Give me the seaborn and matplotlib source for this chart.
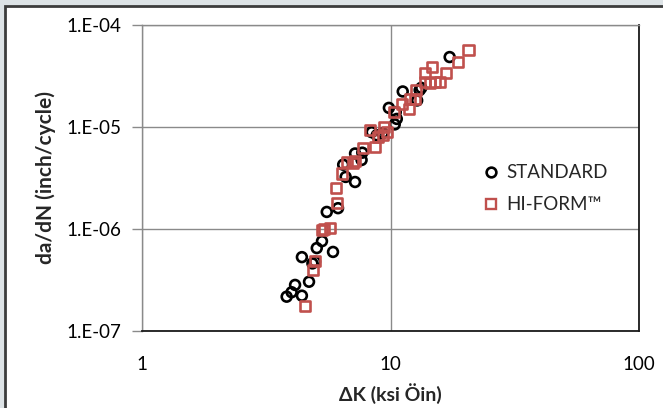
import matplotlib
matplotlib.use("Agg")
import matplotlib.pyplot as plt
import seaborn as sns
import pandas as pd
from matplotlib.patches import Rectangle
from matplotlib.lines import Line2D
from matplotlib.ticker import FixedLocator, FixedFormatter

# ---- data ----
std_dk = [3.82, 4.13, 4.0, 4.40, 4.70, 4.40, 4.97, 4.85, 5.87, 5.05, 5.3, 5.54, 6.15,
          7.2, 6.6, 6.45, 7.2, 7.65, 7.7, 8.4, 8.8, 9.3, 9.85, 10.4, 10.6, 10.5,
          11.2, 12.8, 13.1, 13.3, 17.3]
std_dadn = [2.17e-7, 2.83e-7, 2.4e-7, 2.22e-7, 3.04e-7, 5.3e-7, 4.78e-7, 4.6e-7, 5.96e-7,
            6.5e-7, 7.6e-7, 1.47e-6, 1.6e-6, 2.89e-6, 3.24e-6, 4.27e-6, 5.5e-6, 4.75e-6,
            5.6e-6, 8.9e-6, 8.3e-6, 8.7e-6, 1.54e-5, 1.06e-5, 1.2e-5, 1.4e-5, 2.23e-5,
            1.82e-5, 2.3e-5, 2.42e-5, 4.85e-5]

hf_dk = [4.53, 4.87, 4.97, 5.3, 5.4, 5.7, 6.07, 6.03, 6.36, 6.67, 7.08, 7.2, 7.77, 8.3,
         8.7, 8.9, 9.3, 9.4, 9.7, 10.3, 11.1, 11.9, 12.0, 12.5, 12.7, 13.8, 13.8, 14.4,
         14.7, 15.1, 15.8, 16.8, 18.7, 20.6]
hf_dadn = [1.74e-7, 4.0e-7, 4.9e-7, 9.7e-7, 1.0e-6, 1.03e-6, 1.8e-6, 2.5e-6, 3.5e-6,
           4.57e-6, 4.41e-6, 4.6e-6, 6.2e-6, 9.4e-6, 6.4e-6, 8.0e-6, 8.3e-6, 1.0e-5,
           8.9e-6, 1.4e-5, 1.69e-5, 1.51e-5, 1.89e-5, 1.9e-5, 2.3e-5, 3.36e-5, 2.78e-5,
           2.68e-5, 3.9e-5, 2.78e-5, 2.75e-5, 3.36e-5, 4.37e-5, 5.7e-5]

series_names = ["STANDARD", "HI-FORM\u2122"]
x_ticks = [1, 10, 100]
x_tick_labels = ["1", "10", "100"]
y_ticks = [1e-7, 1e-6, 1e-5, 1e-4]
y_tick_labels = ["1.E-07", "1.E-06", "1.E-05", "1.E-04"]
x_label = "\u0394K (ksi \u00d6in)"
y_label = "da/dN (inch/cycle)"

std_df = pd.DataFrame({"dK": std_dk, "dadn": std_dadn})
hf_df = pd.DataFrame({"dK": hf_dk, "dadn": hf_dadn})

sns.set_theme(style="white")
plt.rcParams["font.family"] = ["Lato", "DejaVu Sans"]

W, H = 663, 408
fig = plt.figure(figsize=(W / 100, H / 100), dpi=100, facecolor="#dde3e6")
# white panel with dark left/top border
fig.patches.append(Rectangle((5 / W, -0.05), 1.2, 1 - 6.5 / H + 0.05,
                             transform=fig.transFigure, facecolor="white",
                             edgecolor="#3c3c3c", linewidth=2, zorder=-10))

ax = fig.add_axes([142 / W, 1 - 331 / H, (639 - 142) / W, (331 - 25) / H])
ax.set_facecolor("white")

black = "#000000"
red = "#c0504d"
sns.scatterplot(data=std_df, x="dK", y="dadn", ax=ax, marker="o", s=50,
                facecolor="none", edgecolor=black, linewidth=1.9, zorder=3)
sns.scatterplot(data=hf_df, x="dK", y="dadn", ax=ax, marker="s", s=52,
                facecolor="none", edgecolor=red, linewidth=1.9, zorder=4)

ax.set_xscale("log")
ax.set_yscale("log")
ax.set_xlim(1, 100)
ax.set_ylim(1e-7, 1e-4)
ax.xaxis.set_major_locator(FixedLocator(x_ticks))
ax.xaxis.set_major_formatter(FixedFormatter(x_tick_labels))
ax.xaxis.set_minor_locator(FixedLocator([]))
ax.yaxis.set_major_locator(FixedLocator(y_ticks))
ax.yaxis.set_major_formatter(FixedFormatter(y_tick_labels))
ax.yaxis.set_minor_locator(FixedLocator([]))

ax.grid(True, which="major", color="#8a8a8a", linewidth=1.0)
ax.set_axisbelow(True)
for side in ["left", "top"]:
    ax.spines[side].set_color("#8a8a8a")
    ax.spines[side].set_linewidth(1.0)
for side in ["right", "bottom"]:
    ax.spines[side].set_color("#1a1a1a")
    ax.spines[side].set_linewidth(1.3)

ax.tick_params(axis="y", which="major", length=7, width=1, color="#8a8a8a",
               pad=8, labelsize=13.5, labelcolor="black", left=True)
ax.tick_params(axis="x", which="major", length=0, pad=18, labelsize=13.5,
               labelcolor="black", bottom=True)

ax.set_xlabel(x_label, fontsize=14, fontweight="bold", labelpad=7)
ax.set_ylabel(y_label, fontsize=15, fontweight="bold", labelpad=7)

handles = [
    Line2D([], [], linestyle="none", marker="o", markersize=7, markerfacecolor="none",
           markeredgecolor=black, markeredgewidth=1.9),
    Line2D([], [], linestyle="none", marker="s", markersize=7, markerfacecolor="none",
           markeredgecolor=red, markeredgewidth=1.7),
]
leg = ax.legend(handles, series_names, loc="center left", bbox_to_anchor=(0.657, 0.465),
                frameon=False, fontsize=13.5, handlelength=0.6, handletextpad=0.5,
                labelspacing=0.8)

fig.savefig("out.png", dpi=100, facecolor=fig.get_facecolor())
